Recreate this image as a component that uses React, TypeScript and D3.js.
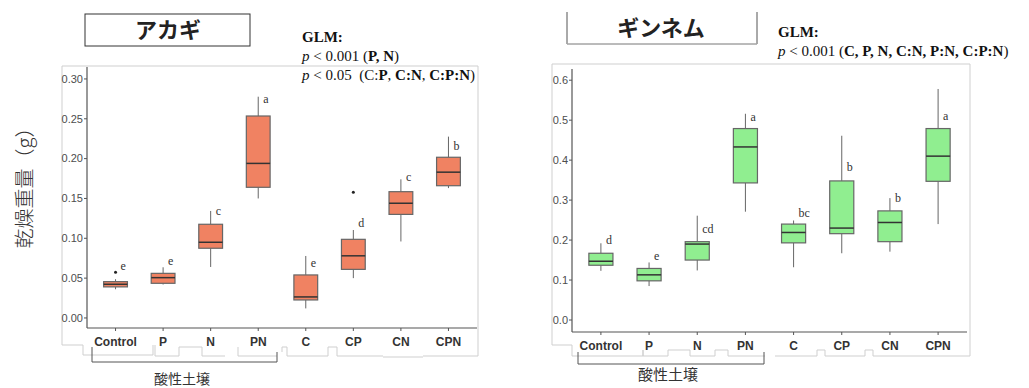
import React from 'react';
import * as d3 from 'd3';

const groups = ['Control', 'P', 'N', 'PN', 'C', 'CP', 'CN', 'CPN'];

// アカギ (Akagi)
const akagiLow = [0.036, 0.042, 0.064, 0.150, 0.012, 0.050, 0.096, 0.163];
const akagiQ1 = [0.039, 0.0435, 0.0875, 0.164, 0.0226, 0.061, 0.130, 0.166];
const akagiMed = [0.0423, 0.0506, 0.095, 0.194, 0.0264, 0.078, 0.144, 0.183];
const akagiQ3 = [0.0456, 0.056, 0.1176, 0.2535, 0.054, 0.0987, 0.1585, 0.2017];
const akagiHigh = [0.0486, 0.0636, 0.1343, 0.2777, 0.0778, 0.1104, 0.174, 0.2276];
const akagiOutliers = [[0.0573], [], [], [], [], [0.1577], [], []];
const akagiLetters = ['e', 'e', 'c', 'a', 'e', 'd', 'c', 'b'];
const akagiLetterY = [0.065, 0.072, 0.134, 0.275, 0.069, 0.12, 0.177, 0.216];
const akagiTicks = [0, 0.05, 0.1, 0.15, 0.2, 0.25, 0.3];

// ギンネム (Ginnemu)
const ginLow = [0.123, 0.085, 0.124, 0.271, 0.132, 0.167, 0.171, 0.24];
const ginQ1 = [0.137, 0.098, 0.150, 0.343, 0.193, 0.216, 0.196, 0.347];
const ginMed = [0.147, 0.113, 0.19, 0.433, 0.219, 0.230, 0.244, 0.41];
const ginQ3 = [0.167, 0.129, 0.196, 0.479, 0.24, 0.348, 0.273, 0.479];
const ginHigh = [0.192, 0.144, 0.261, 0.516, 0.249, 0.461, 0.305, 0.578];
const ginOutliers = [[], [], [], [], [], [], [], []];
const ginLetters = ['d', 'e', 'cd', 'a', 'bc', 'b', 'b', 'a'];
const ginLetterY = [0.2, 0.16, 0.228, 0.509, 0.268, 0.383, 0.306, 0.511];
const ginTicks = [0, 0.1, 0.2, 0.3, 0.4, 0.5, 0.6];

const SERIF = '"Liberation Serif", "Times New Roman", serif';
const SANS = '"Liberation Sans", Arial, sans-serif';
const JP = '"Noto Sans CJK JP", sans-serif';

type PanelProps = {
  xRange: [number, number];
  yDomain: [number, number];
  yRange: [number, number];
  ticks: number[];
  fmt: string;
  low: number[]; q1: number[]; med: number[]; q3: number[]; high: number[];
  outliers: number[][];
  letters: string[];
  letterY: number[];
  fill: string;
};

const Panel = (p: PanelProps) => {
  const x = d3.scalePoint<string>().domain(groups).range(p.xRange).padding(0.6);
  const y = d3.scaleLinear().domain(p.yDomain).range(p.yRange);
  const bw = x.step() * 0.5;
  const f = d3.format(p.fmt);
  const [x0, x1] = p.xRange;
  const [yb, yt] = p.yRange;
  return (
    <g>
      {/* axes */}
      <line x1={x0} x2={x0} y1={yt} y2={yb} stroke="#555" strokeWidth={1.2} />
      <line x1={x0} x2={x1} y1={yb} y2={yb} stroke="#555" strokeWidth={1.2} />
      {p.ticks.map(t => (
        <g key={t}>
          <line x1={x0 - 3} x2={x0} y1={y(t)} y2={y(t)} stroke="#555" />
          <text x={x0 - 4} y={y(t)} dy="0.35em" textAnchor="end" fontFamily={SANS} fontSize={11} fill="#4d4d4d">{f(t)}</text>
        </g>
      ))}
      {groups.map(g => (
        <g key={g}>
          <line x1={x(g)} x2={x(g)} y1={yb} y2={yb + 3} stroke="#555" />
          <text x={x(g)} y={yb + 14} dy="0.35em" textAnchor="middle" fontFamily={SANS} fontWeight="bold" fontSize={12} fill="#333">{g}</text>
        </g>
      ))}
      {/* boxes */}
      {groups.map((g, i) => {
        const cx = x(g) as number;
        return (
          <g key={'b' + g}>
            <line x1={cx} x2={cx} y1={y(p.high[i])} y2={y(p.q3[i])} stroke="#666" />
            <line x1={cx} x2={cx} y1={y(p.q1[i])} y2={y(p.low[i])} stroke="#666" />
            <rect x={cx - bw / 2} y={y(p.q3[i])} width={bw} height={y(p.q1[i]) - y(p.q3[i])} fill={p.fill} stroke="#666" strokeWidth={1.2} />
            <line x1={cx - bw / 2} x2={cx + bw / 2} y1={y(p.med[i])} y2={y(p.med[i])} stroke="#333" strokeWidth={1.5} />
            {p.outliers[i].map((o, k) => (
              <circle key={k} cx={cx} cy={y(o)} r={1.5} fill="#222" />
            ))}
            <text x={cx + 5} y={y(p.letterY[i])} dy="0.35em" fontFamily={SERIF} fontSize={12} fill="#333">{p.letters[i]}</text>
          </g>
        );
      })}
    </g>
  );
};

const pts = (a: number[][]) => a.map(d => d.join(',')).join(' ');

export default function App() {
  return (
    <svg width={1029} height={388} style={{ position: 'absolute', left: 0, top: 0, background: '#fff' }}>
      {/* left panel frame */}
      <g fill="none" stroke="#cfcfcf" strokeWidth={1}>
        <polyline points={pts([[62, 345], [62, 66], [478, 66], [478, 356]])} />
        <polyline points={pts([[62, 345], [83, 345], [83, 355], [153, 355], [153, 345]])} />
        <polyline points={pts([[155, 345], [155, 356], [179, 356], [179, 347], [202, 347], [202, 356], [225, 356]])} />
        <polyline points={pts([[238, 347], [238, 356], [277, 356]])} />
        <polyline points={pts([[282, 352], [282, 347], [287, 347], [287, 356], [328, 356], [328, 347], [337, 347], [337, 356], [383, 356]])} />
        <polyline points={pts([[383, 357], [423, 357]])} />
        <polyline points={pts([[423, 356], [478, 356]])} />
      </g>
      {/* right panel frame */}
      <g fill="none" stroke="#cfcfcf" strokeWidth={1}>
        <polyline points={pts([[552, 345], [552, 64], [970, 64], [970, 356]])} />
        <polyline points={pts([[552, 345], [572, 345], [572, 356], [643, 356], [643, 350], [643, 356], [668, 356], [668, 350], [690, 350], [690, 356], [715, 356], [715, 350], [728, 350], [728, 356], [765, 356]])} />
        <polyline points={pts([[775, 356], [817, 356], [817, 350], [825, 350], [825, 356], [865, 356], [865, 350], [873, 350], [873, 356], [970, 356]])} />
      </g>

      <Panel xRange={[87, 477]} yDomain={[-0.0126, 0.315]} yRange={[328, 67]} ticks={akagiTicks} fmt=".2f"
        low={akagiLow} q1={akagiQ1} med={akagiMed} q3={akagiQ3} high={akagiHigh}
        outliers={akagiOutliers} letters={akagiLetters} letterY={akagiLetterY} fill="#F08262" />
      <Panel xRange={[572, 967]} yDomain={[-0.030, 0.628]} yRange={[332, 69]} ticks={ginTicks} fmt=".1f"
        low={ginLow} q1={ginQ1} med={ginMed} q3={ginQ3} high={ginHigh}
        outliers={ginOutliers} letters={ginLetters} letterY={ginLetterY} fill="#90EE90" />

      {/* titles */}
      <rect x={85} y={14} width={165} height={32} fill="none" stroke="#333" />
      <text x={168} y={30} dy="0.36em" textAnchor="middle" fontFamily={JP} fontWeight="bold" fontSize={22} fill="#222">アカギ</text>
      <polyline points={pts([[567, 12], [567, 44], [757, 44], [757, 12]])} fill="none" stroke="#555" />
      <line x1={567} x2={757} y1={44} y2={44} stroke="#ccc" />
      <text x={661} y={28} dy="0.36em" textAnchor="middle" fontFamily={JP} fontWeight="bold" fontSize={22} fill="#222">ギンネム</text>

      {/* GLM notes */}
      <g fontFamily={SERIF} fontSize={15} fill="#111">
        <text x={302} y={42} fontWeight="bold">GLM:</text>
        <text x={302} y={61}><tspan fontStyle="italic">p</tspan>{' < 0.001 ('}<tspan fontWeight="bold">P, N</tspan>)</text>
        <text x={302} y={80}><tspan fontStyle="italic">p</tspan>{' < 0.05 \u00A0(C:'}<tspan fontWeight="bold">P</tspan>, <tspan fontWeight="bold">C:N</tspan>, <tspan fontWeight="bold">C:P:N</tspan>)</text>
        <text x={778} y={37} fontWeight="bold">GLM:</text>
        <text x={778} y={56}><tspan fontStyle="italic">p</tspan>{' < 0.001 ('}<tspan fontWeight="bold">C, P, N, C:N, P:N, C:P:N</tspan>)</text>
      </g>

      {/* y axis title */}
      <text transform="translate(25,183) rotate(-90)" dy="0.36em" textAnchor="middle" fontFamily={JP} fontSize={20} fontWeight={300} fill="#333">乾燥重量（g）</text>

      {/* 酸性土壌 brackets */}
      <g fill="none" stroke="#555">
        <polyline points={pts([[92, 347], [92, 362], [277, 362], [277, 352]])} />
        <polyline points={pts([[578, 352], [578, 364], [764, 364], [764, 352]])} />
      </g>
      <text x={182} y={379} dy="0.36em" textAnchor="middle" fontFamily={JP} fontSize={14} fill="#333">酸性土壌</text>
      <text x={668} y={375} dy="0.36em" textAnchor="middle" fontFamily={JP} fontSize={15} fill="#333">酸性土壌</text>
    </svg>
  );
}
